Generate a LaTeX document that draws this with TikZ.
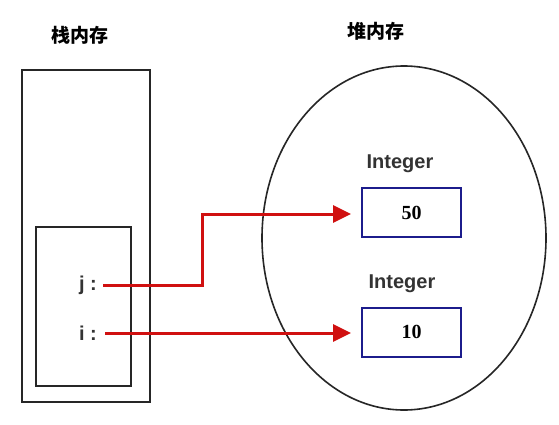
\documentclass[tikz,border=0pt]{standalone}
\usepackage{fontspec}
\setmainfont{Liberation Sans}
\newfontfamily\cjk{Noto Sans CJK SC}
\newfontfamily\numfont{Liberation Serif}
\usetikzlibrary{arrows.meta,shapes.geometric}
\definecolor{arrowred}{HTML}{D01010}
\definecolor{boxblue}{HTML}{1C1C8C}
\definecolor{labgray}{HTML}{333333}
\begin{document}
\begin{tikzpicture}[x=1pt,y=-1pt,
  title/.style={font=\cjk\bfseries\fontsize{19}{19}\selectfont, inner sep=0pt},
  blackbox/.style={draw=black!85, line width=2pt, inner sep=0pt},
  valbox/.style={draw=boxblue, line width=2pt, minimum width=99pt, minimum height=49pt, inner sep=0pt, font=\numfont\bfseries\fontsize{20}{20}\selectfont},
  typelab/.style={font=\bfseries\fontsize{20}{20}\selectfont, text=labgray, inner sep=0pt},
  varlab/.style={font=\bfseries\fontsize{20}{20}\selectfont, text=labgray, inner sep=0pt, anchor=east},
  ref/.style={draw=arrowred, line width=3pt, -{Triangle[length=18pt,width=17pt]}, shorten >=10pt}]
\useasboundingbox (0,0) rectangle (559,425);
\fill[white] (0,0) rectangle (559,425);
\node[title] (t1) at (80,35) {栈内存};
\node[title] (t2) at (376,31) {堆内存};
\node[blackbox, minimum width=128pt, minimum height=332pt] (stack) at (86,236) {};
\node[blackbox, minimum width=95pt, minimum height=159pt] (frame) at (83.5,306.5) {};
\node[draw=black!85, line width=1.6pt, ellipse, minimum width=284pt, minimum height=344pt, inner sep=0pt] (heap) at (404,238) {};
\node[typelab] (int1) at (400,164) {Integer};
\node[valbox] (b50) at (411.5,212.5) {50};
\node[typelab] (int2) at (402,284) {Integer};
\node[valbox] (b10) at (411.5,332) {10};
\node[varlab] (j) at (97,285) {j :};
\node[varlab] (i) at (97,333) {i :};
\coordinate (bend) at (202,214);
\draw[ref] ([xshift=6pt]j.east) -- (j.east -| bend) -- (bend) -- (b50.west |- bend);
\draw[ref] ([xshift=8pt]i.east) -- (b10.west |- i.east);
\end{tikzpicture}
\end{document}
